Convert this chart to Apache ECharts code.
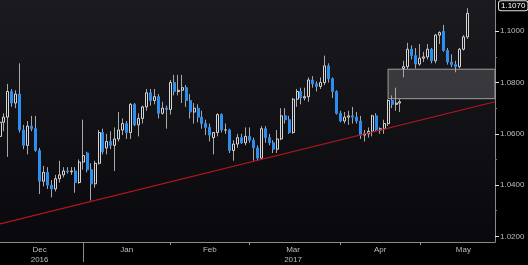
<!DOCTYPE html>
<html><head><meta charset="utf-8">
<script src="https://cdn.jsdelivr.net/npm/echarts@6/dist/echarts.min.js"></script>
<style>html,body{margin:0;padding:0;background:#000;}#c{width:528px;height:265px;}</style>
</head><body><div id="c"></div>
<script>
const dates = [
'2016-12-01','2016-12-02','2016-12-05','2016-12-06','2016-12-07','2016-12-08','2016-12-09','2016-12-12','2016-12-13','2016-12-14','2016-12-15','2016-12-16','2016-12-19','2016-12-20','2016-12-21','2016-12-22','2016-12-23','2016-12-26','2016-12-27','2016-12-28','2016-12-29','2016-12-30',
'2017-01-02','2017-01-03','2017-01-04','2017-01-05','2017-01-06','2017-01-09','2017-01-10','2017-01-11','2017-01-12','2017-01-13','2017-01-16','2017-01-17','2017-01-18','2017-01-19','2017-01-20','2017-01-23','2017-01-24','2017-01-25','2017-01-26','2017-01-27','2017-01-30','2017-01-31',
'2017-02-01','2017-02-02','2017-02-03','2017-02-06','2017-02-07','2017-02-08','2017-02-09','2017-02-10','2017-02-13','2017-02-14','2017-02-15','2017-02-16','2017-02-17','2017-02-20','2017-02-21','2017-02-22','2017-02-23','2017-02-24','2017-02-27','2017-02-28',
'2017-03-01','2017-03-02','2017-03-03','2017-03-06','2017-03-07','2017-03-08','2017-03-09','2017-03-10','2017-03-13','2017-03-14','2017-03-15','2017-03-16','2017-03-17','2017-03-20','2017-03-21','2017-03-22','2017-03-23','2017-03-24','2017-03-27','2017-03-28','2017-03-29','2017-03-30','2017-03-31',
'2017-04-03','2017-04-04','2017-04-05','2017-04-06','2017-04-07','2017-04-10','2017-04-11','2017-04-12','2017-04-13','2017-04-14','2017-04-17','2017-04-18','2017-04-19','2017-04-20','2017-04-21','2017-04-24','2017-04-25','2017-04-26','2017-04-27','2017-04-28',
'2017-05-01','2017-05-02','2017-05-03','2017-05-04','2017-05-05','2017-05-08','2017-05-09','2017-05-10','2017-05-11','2017-05-12','2017-05-15','2017-05-16','2017-05-17','2017-05-18','2017-05-19','2017-05-22','2017-05-23','2017-05-24','2017-05-25'
];
const opens = [
1.0590,1.0645,1.0665,1.0765,1.0720,1.0755,1.0615,1.0555,1.0630,1.0620,
1.0535,1.0415,1.0450,1.0400,1.0385,1.0425,1.0440,1.0455,1.0452,1.0455,
1.0410,1.0490,1.0525,1.0460,1.0405,1.0485,1.0605,1.0545,1.0570,1.0555,
1.0580,1.0615,1.0640,1.0605,1.0715,1.0635,1.0660,1.0705,1.0760,1.0730,
1.0745,1.0680,1.0700,1.0695,1.0800,1.0765,1.0770,1.0780,1.0730,1.0685,
1.0700,1.0665,1.0640,1.0625,1.0585,1.0605,1.0675,1.0615,1.0615,1.0535,
1.0560,1.0585,1.0565,1.0590,1.0575,1.0545,1.0505,1.0620,1.0585,1.0565,
1.0540,1.0580,1.0670,1.0655,1.0605,1.0735,1.0765,1.0740,1.0745,1.0810,
1.0795,1.0785,1.0800,1.0865,1.0815,1.0765,1.0680,1.0650,1.0665,1.0670,
1.0665,1.0650,1.0595,1.0600,1.0610,1.0670,1.0615,1.0620,1.0640,1.0730,
1.0715,1.0720,1.0855,1.0862,1.0930,1.0905,1.0872,1.0895,1.0900,1.0930,
1.0885,1.0985,1.1000,1.0925,1.0880,1.0870,1.0862,1.0930,1.0978
];
const highs = [
1.0665,1.0680,1.0795,1.0775,1.0770,1.0875,1.0635,1.0650,1.0670,1.0670,
1.0545,1.0475,1.0470,1.0420,1.0440,1.0495,1.0470,1.0470,1.0470,1.0470,
1.0500,1.0655,1.0530,1.0485,1.0495,1.0615,1.0620,1.0600,1.0610,1.0625,
1.0685,1.0660,1.0650,1.0720,1.0720,1.0680,1.0710,1.0775,1.0775,1.0775,
1.0755,1.0725,1.0710,1.0810,1.0830,1.0830,1.0830,1.0790,1.0755,1.0720,
1.0715,1.0690,1.0655,1.0640,1.0605,1.0680,1.0680,1.0640,1.0620,1.0575,
1.0600,1.0600,1.0625,1.0625,1.0585,1.0555,1.0630,1.0630,1.0600,1.0575,
1.0615,1.0700,1.0700,1.0670,1.0740,1.0775,1.0780,1.0780,1.0820,1.0825,
1.0805,1.0820,1.0905,1.0875,1.0820,1.0770,1.0690,1.0685,1.0690,1.0705,
1.0685,1.0670,1.0615,1.0625,1.0675,1.0680,1.0625,1.0655,1.0735,1.0750,
1.0780,1.0735,1.0885,1.0955,1.0945,1.0935,1.0950,1.0920,1.0950,1.0935,
1.0990,1.1000,1.1025,1.0935,1.0910,1.0885,1.0935,1.0985,1.1090
];
const lows = [
1.0585,1.0610,1.0510,1.0705,1.0700,1.0605,1.0540,1.0520,1.0610,1.0530,
1.0365,1.0395,1.0385,1.0352,1.0375,1.0410,1.0430,1.0445,1.0440,1.0370,
1.0405,1.0460,1.0450,1.0340,1.0390,1.0480,1.0520,1.0520,1.0540,1.0455,
1.0570,1.0595,1.0580,1.0580,1.0630,1.0590,1.0640,1.0690,1.0710,1.0715,
1.0660,1.0675,1.0620,1.0675,1.0750,1.0750,1.0720,1.0705,1.0660,1.0640,
1.0645,1.0620,1.0595,1.0570,1.0520,1.0590,1.0605,1.0600,1.0525,1.0495,
1.0545,1.0560,1.0555,1.0565,1.0495,1.0495,1.0500,1.0565,1.0555,1.0525,
1.0525,1.0575,1.0640,1.0600,1.0600,1.0705,1.0715,1.0730,1.0725,1.0780,
1.0765,1.0775,1.0790,1.0800,1.0740,1.0675,1.0645,1.0640,1.0635,1.0640,
1.0640,1.0580,1.0570,1.0585,1.0590,1.0610,1.0600,1.0600,1.0630,1.0700,
1.0690,1.0685,1.0820,1.0852,1.0890,1.0855,1.0865,1.0880,1.0890,1.0875,
1.0875,1.0950,1.0920,1.0870,1.0860,1.0840,1.0855,1.0925,1.0970
];
const closes = [
1.0645,1.0665,1.0765,1.0720,1.0755,1.0615,1.0555,1.0630,1.0620,1.0535,
1.0415,1.0450,1.0400,1.0385,1.0425,1.0440,1.0455,1.0452,1.0455,1.0410,
1.0490,1.0515,1.0460,1.0405,1.0485,1.0605,1.0530,1.0570,1.0555,1.0580,
1.0615,1.0640,1.0605,1.0715,1.0635,1.0660,1.0705,1.0760,1.0730,1.0745,
1.0680,1.0700,1.0695,1.0800,1.0765,1.0770,1.0780,1.0730,1.0685,1.0700,
1.0665,1.0640,1.0625,1.0595,1.0605,1.0675,1.0615,1.0615,1.0535,1.0560,
1.0585,1.0565,1.0590,1.0575,1.0545,1.0505,1.0620,1.0585,1.0565,1.0540,
1.0580,1.0670,1.0655,1.0605,1.0735,1.0765,1.0740,1.0745,1.0810,1.0795,
1.0785,1.0800,1.0865,1.0815,1.0765,1.0680,1.0650,1.0665,1.0670,1.0665,
1.0650,1.0595,1.0600,1.0610,1.0670,1.0615,1.0620,1.0640,1.0730,1.0715,
1.0720,1.0725,1.0862,1.0930,1.0905,1.0872,1.0895,1.0900,1.0930,1.0885,
1.0985,1.0995,1.0925,1.0880,1.0870,1.0862,1.0930,1.0978,1.1070
];
const yRange = [1.0178, 1.1122];
const yLabelValues = [1.02, 1.04, 1.06, 1.08, 1.10];
const yMinorValues = [1.03, 1.05, 1.07, 1.09];
const monthEndDates = ['2016-12-30','2017-01-31','2017-02-28','2017-03-31','2017-04-28'];
const monthLabelDates = ['2016-12-15','2017-01-16','2017-02-14','2017-03-15','2017-04-14','2017-05-15'];
const monthLabels = ['Dec\n2016','Jan','Feb','Mar\n2017','Apr','May'];
const yearEndDate = '2016-12-30';
const trendValues = [1.0249, 1.0725];
const zoneValues = [1.0737, 1.0852];
const zoneStartDate = '2017-04-18';

const wickData = opens.map((o, i) => [o, closes[i], lows[i], highs[i]]);
const bodyData = opens.map((o, i) => [o, closes[i], Math.min(o, closes[i]), Math.max(o, closes[i])]);
const lastClose = closes[closes.length - 1];
const FONT = '"Liberation Sans", Arial, sans-serif';

const chart = echarts.init(document.getElementById('c'), null, {renderer: 'canvas'});
chart.setOption({
  backgroundColor: '#000',
  animation: false,
  grid: {
    left: 0, right: 33, top: 0, bottom: 20, show: true, borderWidth: 0,
    backgroundColor: new echarts.graphic.LinearGradient(0, 0, 0, 1, [
      {offset: 0, color: '#1a1a1f'}, {offset: 1, color: '#09090d'}
    ])
  },
  xAxis: [{
    type: 'category', data: dates, boundaryGap: false,
    axisLine: {lineStyle: {color: '#8a8a8a', width: 1}},
    axisTick: {show: true, interval: (i, v) => monthEndDates.includes(v), length: 3, lineStyle: {color: '#9a9a9a'}},
    axisLabel: {
      interval: (i, v) => monthLabelDates.includes(v),
      formatter: v => monthLabels[monthLabelDates.indexOf(v)] || '',
      color: '#bdbdbd', fontSize: 8, fontFamily: FONT, lineHeight: 10, margin: 3
    },
    splitLine: {show: false}
  }, {
    type: 'category', data: dates, boundaryGap: false, position: 'bottom',
    axisLine: {show: false}, axisLabel: {show: false}, splitLine: {show: false},
    axisTick: {show: true, interval: (i, v) => v === yearEndDate, length: 20, lineStyle: {color: '#8a8a8a'}}
  }],
  yAxis: [{
    type: 'value', position: 'right', min: yRange[0], max: yRange[1],
    axisLine: {show: true, lineStyle: {color: '#8a8a8a'}},
    axisTick: {show: true, customValues: yLabelValues, length: 4, lineStyle: {color: '#e6e6e6'}},
    axisLabel: {customValues: yLabelValues, formatter: v => v.toFixed(4), color: '#bdbdbd', fontSize: 8, fontFamily: FONT, margin: 5},
    splitLine: {show: false}
  }, {
    type: 'value', position: 'right', min: yRange[0], max: yRange[1],
    axisLine: {show: false}, axisLabel: {show: false}, splitLine: {show: false},
    axisTick: {show: true, customValues: yMinorValues, length: 2, lineStyle: {color: '#777'}}
  }],
  series: [{
    type: 'candlestick', name: 'wick', data: wickData, barWidth: 1,
    itemStyle: {color: '#a8a8a8', color0: '#a8a8a8', borderColor: '#a8a8a8', borderColor0: '#a8a8a8', borderWidth: 1},
    emphasis: {disabled: true},
    markArea: {
      silent: true,
      itemStyle: {color: 'rgba(110,110,115,0.40)', borderColor: '#a0a0a0', borderWidth: 1},
      data: [[{coord: [zoneStartDate, zoneValues[1]]}, {coord: [dates[dates.length - 1], zoneValues[0]]}]]
    },
    markLine: {
      silent: true, symbol: ['none', 'none'], label: {show: false},
      lineStyle: {color: '#b3161f', width: 1.2, type: 'solid'},
      data: [[{coord: [dates[0], trendValues[0]]}, {coord: [dates[dates.length - 1], trendValues[1]]}]]
    }
  }, {
    type: 'candlestick', name: 'body', data: bodyData, barWidth: 2.5,
    itemStyle: {color: '#101014', color0: '#2c8ff0', borderColor: '#d6d6d6', borderColor0: '#2c8ff0', borderWidth: 1},
    emphasis: {disabled: true},
    markLine: {
      silent: true, symbol: ['none', 'none'],
      lineStyle: {color: 'rgba(0,0,0,0)', width: 1, type: 'solid'},
      label: {
        show: true, position: 'end', distance: 4,
        formatter: () => lastClose.toFixed(4),
        color: '#ffffff', backgroundColor: '#050505', borderColor: '#e0e0e0', borderWidth: 1, borderRadius: 2,
        padding: [1, 2, 0, 2], fontSize: 8, fontFamily: FONT
      },
      data: [{yAxis: lastClose}]
    }
  }]
});
</script></body></html>
